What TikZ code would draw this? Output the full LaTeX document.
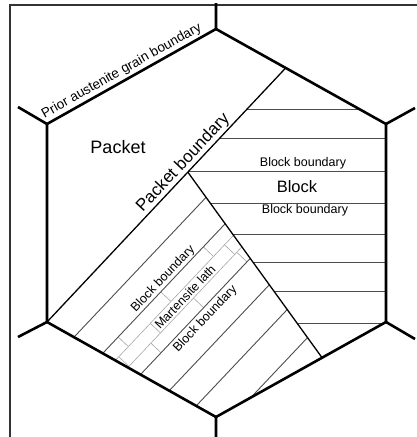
\documentclass[tikz,border=0pt]{standalone}
\usepackage{fontspec}
\setmainfont{Liberation Sans}
\usetikzlibrary{calc}

\begin{document}
\begin{tikzpicture}[x=1pt, y=-1pt,
  frame/.style={line width=1.4pt, black!80},
  grain/.style={line width=2.6pt, line join=round},
  pbound/.style={line width=1.3pt},
  bline/.style={line width=0.9pt, black!70},
  lathline/.style={line width=0.6pt, black!35},
  lbl/.style={font=\fontsize{12.5}{14}\selectfont, inner sep=1pt},
  big/.style={font=\fontsize{18}{20}\selectfont}
]
  \useasboundingbox (0,0) rectangle (417,437);

  % grain corners
  \coordinate (T) at (216,29);
  \coordinate (UL) at (47,124);
  \coordinate (UR) at (386,124);
  \coordinate (LL) at (47,322);
  \coordinate (LR) at (386,322);
  \coordinate (B) at (216,417);
  \coordinate (P) at ($(T)!0.41!(UR)$);
  \coordinate (J) at ($(LL)!0.59!(P)$);
  \coordinate (S) at ($(LR)!0.376!(B)$);

  % frame
  \draw[frame] (10,437) -- (10,5) -- (417,5);

  % block boundaries, right packet
  \begin{scope}
    \clip (P) -- (UR) -- (LR) -- (S) -- (J) -- cycle;
    \foreach \y in {109,138,171,203,234,262,291,323}
      \draw[bline] (150,\y) -- (400,\y);
  \end{scope}
  \node[lbl] at (303,163) {Block boundary};
  \node[font=\fontsize{16.5}{18}\selectfont] at (297,187) {Block};
  \node[lbl] at (305,210) {Block boundary};

  % laths, lower packet
  \begin{scope}[shift={(LL)}, x={(0.687pt,0.727pt)}, y={(0.727pt,-0.687pt)}]
    \begin{scope}
      \clip (LL) -- (J) -- (S) -- (B) -- cycle;
      \foreach \s in {76,90}
        \draw[lathline] (-20,\s) -- (260,\s);
      \foreach \u in {38,100,162}
        \draw[lathline] (\u,62) -- (\u,76);
      \foreach \u in {24,70,178}
        \draw[lathline] (\u,76) -- (\u,90);
      \foreach \u in {56,118,181}
        \draw[lathline] (\u,90) -- (\u,104);
      \foreach \s in {30,62,104,136,166,200}
        \draw[bline] (-20,\s) -- (260,\s);
    \end{scope}
    \node[lbl, rotate=46.6] at (111,55) {Block boundary};
    \node[lbl, rotate=46.6, fill=white] at (113,83) {Martensite lath};
    \node[lbl, rotate=46.6] at (111,113) {Block boundary};
  \end{scope}

  % packet boundaries
  \draw[pbound] (LL) -- (P) node[pos=0.6, sloped, above, inner sep=1pt, font=\fontsize{17}{19}\selectfont] {Packet boundary};
  \draw[pbound] (J) -- (S);
  \node[big] at (118,147) {Packet};

  % prior austenite grain
  \draw[grain] (T) -- (UR) -- (LR) -- (B) -- (LL) -- (UL) -- cycle;
  \draw[grain] (T) -- ++(0,-26) (UL) -- ++(-29,-17) (UR) -- ++(29,-16)
    (LL) -- ++(-29,15) (LR) -- ++(29,17) (B) -- ++(0,22);
  \path (UL) -- (T) node[pos=0.47, sloped, above, inner sep=3pt, font=\fontsize{13.5}{15}\selectfont] {Prior austenite grain boundary};
\end{tikzpicture}
\end{document}
